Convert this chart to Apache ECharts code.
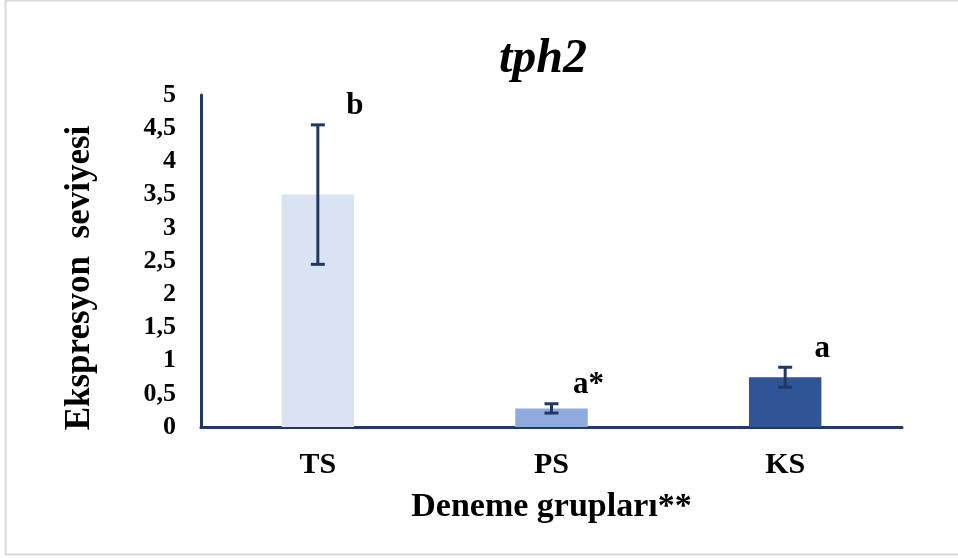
<!DOCTYPE html>
<html>
<head>
<meta charset="utf-8">
<script src="https://cdn.jsdelivr.net/npm/echarts@6/dist/echarts.min.js"></script>
<style>
html,body{margin:0;padding:0;background:#fff;}
#chart{width:958px;height:558px;}
</style>
</head>
<body>
<div id="chart"></div>
<script>
const categories = ['TS', 'PS', 'KS'];
const means = [3.5, 0.28, 0.75];
const errors = [1.05, 0.07, 0.15];
const letters = ['b', 'a*', 'a'];
const yTickLabels = ['0', '0,5', '1', '1,5', '2', '2,5', '3', '3,5', '4', '4,5', '5'];
const barColors = ['#dae3f3', '#8faadc', '#2f5597'];

const FONT = '"Liberation Serif", "Times New Roman", serif';
const NAVY = '#1f3864';

const chart = echarts.init(document.getElementById('chart'), null, {renderer: 'canvas'});

const option = {
  backgroundColor: '#fff',
  animation: false,
  title: {
    text: 'tph2',
    left: 538,
    textAlign: 'center',
    top: 31,
    textStyle: {fontFamily: FONT, fontSize: 48, fontWeight: 'bold', fontStyle: 'italic', color: '#000'}
  },
  graphic: [{
    type: 'rect',
    shape: {x: 5.5, y: 0.5, width: 960, height: 554},
    style: {fill: 'none', stroke: '#d9d9d9', lineWidth: 2},
    silent: true,
    z: -10
  }],
  grid: {left: 201, right: 56, top: 95, bottom: 131},
  xAxis: {
    type: 'category',
    data: categories,
    name: 'Deneme grupları**',
    nameLocation: 'middle',
    nameGap: 63,
    nameTextStyle: {fontFamily: FONT, fontSize: 34, fontWeight: 'bold', color: '#000'},
    axisLine: {lineStyle: {color: NAVY, width: 3}},
    axisTick: {show: false},
    axisLabel: {margin: 23, fontFamily: FONT, fontSize: 30, fontWeight: 'bold', color: '#000'}
  },
  yAxis: {
    type: 'value',
    min: 0,
    max: 5,
    interval: 0.5,
    name: 'Ekspresyon  seviyesi',
    nameLocation: 'middle',
    nameGap: 104,
    nameTextStyle: {fontFamily: FONT, fontSize: 35, fontWeight: 'bold', color: '#000', padding: [0, 34, 0, 0]},
    axisLine: {show: true, lineStyle: {color: NAVY, width: 3}},
    axisTick: {show: false},
    splitLine: {show: false},
    axisLabel: {
      margin: 25,
      fontFamily: FONT, fontSize: 26, fontWeight: 'bold', color: '#000',
      formatter: function (v) { return yTickLabels[Math.round(v / 0.5)]; }
    }
  },
  series: [
    {
      type: 'bar',
      barWidth: '31%',
      data: means.map((m, i) => ({value: m, itemStyle: {color: barColors[i]}})),
      z: 2
    },
    {
      type: 'custom',
      z: 5,
      data: means.map((m, i) => [i, m, errors[i]]),
      renderItem: function (params, api) {
        const i = api.value(0);
        const m = api.value(1);
        const e = api.value(2);
        const top = api.coord([i, m + e]);
        const bot = api.coord([i, m - e]);
        const hw = 7;
        const ls = {stroke: NAVY, lineWidth: 3};
        return {
          type: 'group',
          children: [
            {type: 'line', shape: {x1: top[0], y1: top[1], x2: bot[0], y2: bot[1]}, style: ls},
            {type: 'line', shape: {x1: top[0] - hw, y1: top[1], x2: top[0] + hw, y2: top[1]}, style: ls},
            {type: 'line', shape: {x1: bot[0] - hw, y1: bot[1], x2: bot[0] + hw, y2: bot[1]}, style: ls},
            {
              type: 'text',
              x: top[0] + 37,
              y: top[1] - 3,
              style: {
                text: letters[params.dataIndex],
                fontFamily: FONT, fontSize: 31, fontWeight: 'bold', fill: '#000',
                align: 'center', verticalAlign: 'bottom'
              }
            }
          ]
        };
      }
    }
  ]
};
chart.setOption(option);
</script>
</body>
</html>
